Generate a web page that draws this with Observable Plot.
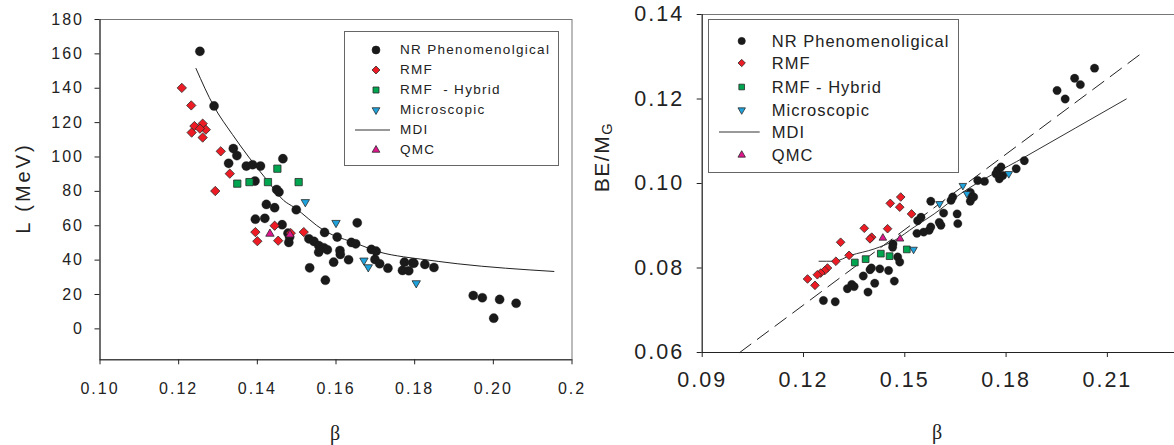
<!DOCTYPE html>
<html><head><meta charset="utf-8">
<script src="https://cdn.jsdelivr.net/npm/d3@7"></script>
<script src="https://cdn.jsdelivr.net/npm/@observablehq/plot@0.6"></script>
<style>
body{margin:0;background:#fff;}
#wrap{position:relative;width:1174px;height:445px;overflow:hidden;font-family:"Liberation Sans",Arial,sans-serif;color:#222;}
.panel{position:absolute;top:0;}
.lbl{position:absolute;white-space:nowrap;line-height:1;}
.legend{position:absolute;border:1px solid #666;background:#fff;box-sizing:border-box;}
.legend .t{position:absolute;white-space:pre;line-height:1;transform:translateY(-50%);}
</style></head><body><div id="wrap"></div>
<script>
// ---------- tick values and labels ----------
const leftXTicks = [0.10, 0.12, 0.14, 0.16, 0.18, 0.20, 0.22];
const leftXLabels = ["0.10", "0.12", "0.14", "0.16", "0.18", "0.20", "0.2"];
const leftYTicks = [0, 20, 40, 60, 80, 100, 120, 140, 160, 180];
const leftYLabels = ["0", "20", "40", "60", "80", "100", "120", "140", "160", "180"];
const rightXTicks = [0.09, 0.12, 0.15, 0.18, 0.21];
const rightXLabels = ["0.09", "0.12", "0.15", "0.18", "0.21"];
const rightYTicks = [0.06, 0.08, 0.10, 0.12, 0.14];
const rightYLabels = ["0.06", "0.08", "0.10", "0.12", "0.14"];

// ---------- series names ----------
const seriesLeft = ["NR Phenomenolgical", "RMF", "RMF  - Hybrid", "Microscopic", "MDI", "QMC"];
const seriesRight = ["NR Phenomenoligical", "RMF", "RMF - Hybrid", "Microscopic", "MDI", "QMC"];

// ---------- left panel: beta vs L (MeV) ----------
const nrL = [[0.1254,161.5],[0.1290,129.7],[0.1339,104.9],[0.1348,100.8],[0.1327,96.3],[0.1372,94.7],[0.1388,95.5],[0.1408,94.7],[0.1465,99.0],[0.1394,86.0],[0.1449,81.1],[0.1455,79.6],[0.1423,72.4],[0.1444,70.5],[0.1499,69.3],[0.1395,63.8],[0.1419,64.3],[0.1463,60.6],[0.1478,55.7],[0.1482,53.4],[0.1480,50.3],[0.1654,61.7],[0.1571,56.1],[0.1603,53.4],[0.1531,52.4],[0.1544,50.9],[0.1556,48.5],[0.1569,47.2],[0.1578,46.0],[0.1556,44.6],[0.1610,45.6],[0.1611,43.3],[0.1639,50.3],[0.1650,49.5],[0.1690,46.2],[0.1702,45.2],[0.1699,40.4],[0.1711,37.9],[0.1632,40.2],[0.1594,38.8],[0.1732,35.3],[0.1533,35.5],[0.1573,28.3],[0.1774,38.8],[0.1798,38.2],[0.1769,34.0],[0.1785,33.8],[0.1795,38.4],[0.1826,37.5],[0.1849,35.7],[0.1949,19.4],[0.1972,18.1],[0.2016,17.1],[0.2058,14.9],[0.2001,6.2]];
const rmfL = [[0.1208,140.2],[0.1232,130.0],[0.1240,118.0],[0.1261,119.4],[0.1269,115.9],[0.1254,116.5],[0.1233,114.2],[0.1261,111.3],[0.1307,103.3],[0.1330,90.3],[0.1293,80.2],[0.1444,60.0],[0.1395,56.3],[0.1400,51.0],[0.1453,51.3],[0.1518,56.3],[0.1485,55.7]];
const hybL = [[0.1349,84.5],[0.1380,85.4],[0.1427,85.4],[0.1451,93.2],[0.1505,85.4]];
const micL = [[0.1522,73.8],[0.1600,61.7],[0.1671,39.8],[0.1682,35.9],[0.1804,26.6]];
const qmcL = [[0.1432,55.3],[0.1483,54.8]];
const mdiL = [[0.1244,151.5],[0.1289,129.7],[0.1337,113.0],[0.1378,100.0],[0.1425,86.4],[0.1467,74.7],[0.1493,70.8],[0.1569,57.3],[0.1654,49.5],[0.1712,44.6],[0.1772,41.9],[0.1815,40.6],[0.1908,37.9],[0.2154,33.4]];

// ---------- right panel: beta vs BE/M_G ----------
const nrR = [[0.1259,0.0723],[0.1294,0.0720],[0.1330,0.0751],[0.1350,0.0756],[0.1343,0.0761],[0.1391,0.0743],[0.1411,0.0764],[0.1469,0.0769],[0.1377,0.0781],[0.1397,0.0796],[0.1401,0.0800],[0.1426,0.0798],[0.1452,0.0794],[0.1479,0.0826],[0.1485,0.0814],[0.1465,0.0857],[0.1464,0.0849],[0.1538,0.0912],[0.1548,0.0920],[0.1577,0.0958],[0.1536,0.0882],[0.1556,0.0885],[0.1572,0.0889],[0.1577,0.0897],[0.1602,0.0908],[0.1607,0.0901],[0.1615,0.0930],[0.1655,0.0928],[0.1657,0.0905],[0.1637,0.0960],[0.1642,0.0968],[0.1694,0.0979],[0.1698,0.0968],[0.1694,0.0958],[0.1704,0.0968],[0.1716,0.1007],[0.1736,0.1005],[0.1775,0.1031],[0.1785,0.1039],[0.1780,0.1011],[0.1770,0.1023],[0.1790,0.1019],[0.1830,0.1035],[0.1854,0.1054],[0.2062,0.1273],[0.2003,0.1249],[0.2020,0.1234],[0.1951,0.1220],[0.1975,0.1200]];
const rmfR = [[0.1488,0.0968],[0.1457,0.0953],[0.1485,0.0944],[0.1520,0.0928],[0.1380,0.0894],[0.1449,0.0893],[0.1402,0.0873],[0.1397,0.0869],[0.1310,0.0861],[0.1335,0.0830],[0.1296,0.0816],[0.1271,0.0800],[0.1263,0.0794],[0.1251,0.0788],[0.1241,0.0784],[0.1212,0.0774],[0.1234,0.0759]];
const hybR = [[0.1352,0.0813],[0.1384,0.0821],[0.1429,0.0834],[0.1455,0.0828],[0.1506,0.0844]];
const micR = [[0.1526,0.0844],[0.1603,0.0952],[0.1672,0.0995],[0.1684,0.0976],[0.1808,0.1023]];
const qmcR = [[0.1435,0.0871],[0.1486,0.0869]];
const mdiR = [[0.1246,0.0816],[0.1291,0.0816],[0.1340,0.0830],[0.1409,0.0845],[0.1469,0.0865],[0.1528,0.0897],[0.1587,0.0928],[0.1666,0.0976],[0.1854,0.1062],[0.2156,0.1200]];
const fitR = [[0.1011,0.0600],[0.2206,0.1311]];

// ---------- styling ----------
const C = {nr: "#1a1a1a", rmf: "#ed1c24", hyb: "#00a54f", mic: "#1fa3dc", qmc: "#e0158c", edge: "#2a2a2a"};
const xy = {x: d => d[0], y: d => d[1]};
const wrap = d3.select("#wrap");

function lab(ticks, labels) { return d => labels[ticks.indexOf(d)]; }

// ---------- left plot ----------
const leftPlot = Plot.plot({
  width: 587, height: 445,
  marginLeft: 99.5, marginRight: 15.5, marginTop: 19, marginBottom: 85.7,
  x: {domain: [0.10, 0.22]},
  y: {domain: [-18, 180]},
  style: {fontFamily: "Liberation Sans, Arial, sans-serif", fontSize: "16px", letterSpacing: "2px", color: "#222", background: "transparent", overflow: "visible"},
  marks: [
    Plot.frame({stroke: "#777", strokeWidth: 1}),
    Plot.ruleX([0.10], {stroke: "#222"}),
    Plot.ruleY([-18], {stroke: "#222"}),
    Plot.axisX(leftXTicks, {tickSize: 5, tickPadding: 18, tickFormat: lab(leftXTicks, leftXLabels), label: null}),
    Plot.axisY(leftYTicks, {tickSize: 5, tickPadding: 11, tickFormat: lab(leftYTicks, leftYLabels), label: null}),
    Plot.line(mdiL, {...xy, stroke: "#222", strokeWidth: 1, curve: "monotone-x"}),
    Plot.dot(nrL, {...xy, r: 4.6, fill: C.nr, stroke: C.nr, strokeWidth: 0.3}),
    Plot.dot(rmfL, {...xy, symbol: "diamond2", r: 4.2, fill: C.rmf, stroke: C.edge, strokeWidth: 0.8}),
    Plot.dot(hybL, {...xy, symbol: "square", r: 4.1, fill: C.hyb, stroke: C.edge, strokeWidth: 0.8}),
    Plot.dot(micL, {...xy, symbol: "triangle", rotate: 180, r: 3.1, fill: C.mic, stroke: C.edge, strokeWidth: 0.8}),
    Plot.dot(qmcL, {...xy, symbol: "triangle", r: 3.1, fill: C.qmc, stroke: C.edge, strokeWidth: 0.8})
  ]
});
wrap.append("div").attr("class", "panel").style("left", "0px").style("width", "587px").node().appendChild(leftPlot);

// ---------- right plot ----------
const rightPlot = Plot.plot({
  width: 600, height: 445,
  marginLeft: 114.7, marginRight: 12.6, marginTop: 14, marginBottom: 93,
  x: {domain: [0.09, 0.23]},
  y: {domain: [0.06, 0.14]},
  style: {fontFamily: "Liberation Sans, Arial, sans-serif", fontSize: "21.5px", letterSpacing: "2px", color: "#222", background: "transparent", overflow: "visible"},
  marks: [
    Plot.frame({stroke: "#777", strokeWidth: 1}),
    Plot.ruleX([0.09], {stroke: "#222"}),
    Plot.ruleY([0.06], {stroke: "#222"}),
    Plot.axisX(rightXTicks, {tickSize: 5, tickPadding: 14, tickFormat: lab(rightXTicks, rightXLabels), label: null}),
    Plot.axisY(rightYTicks, {tickSize: 5, tickPadding: 13, tickFormat: lab(rightYTicks, rightYLabels), label: null}),
    Plot.line(fitR, {...xy, stroke: "#222", strokeWidth: 1, strokeDasharray: "14,8"}),
    Plot.line(mdiR, {...xy, stroke: "#333", strokeWidth: 1, curve: "monotone-x"}),
    Plot.dot(nrR, {...xy, r: 4.2, fill: C.nr, stroke: C.nr, strokeWidth: 0.3}),
    Plot.dot(rmfR, {...xy, symbol: "diamond2", r: 3.9, fill: C.rmf, stroke: C.edge, strokeWidth: 0.8}),
    Plot.dot(hybR, {...xy, symbol: "square", r: 3.8, fill: C.hyb, stroke: C.edge, strokeWidth: 0.8}),
    Plot.dot(micR, {...xy, symbol: "triangle", rotate: 180, r: 2.8, fill: C.mic, stroke: C.edge, strokeWidth: 0.8}),
    Plot.dot(qmcR, {...xy, symbol: "triangle", r: 2.8, fill: C.qmc, stroke: C.edge, strokeWidth: 0.8})
  ]
});
wrap.append("div").attr("class", "panel").style("left", "587px").style("width", "600px").node().appendChild(rightPlot);

// ---------- axis titles ----------
function title(html, x, y, size, rot, family, spacing) {
  wrap.append("div").attr("class", "lbl")
    .style("left", x + "px").style("top", y + "px")
    .style("font-size", size + "px").style("letter-spacing", spacing + "px")
    .style("font-family", family)
    .style("transform", `translate(-50%,-50%) rotate(${rot}deg)`)
    .html(html);
}
title("L (MeV)", 23, 188, 20, -90, "Liberation Sans, Arial, sans-serif", 3);
title("β", 335, 433, 20, 0, "Liberation Serif, serif", 0);
title("BE/M<sub style='font-size:70%;vertical-align:-0.25em'>G</sub>", 603, 157, 21, -90, "Liberation Sans, Arial, sans-serif", 1.5);
title("β", 937, 432, 20, 0, "Liberation Serif, serif", 0);

// ---------- legends ----------
const symbols = [
  {type: "circle", fill: C.nr, stroke: C.nr},
  {type: "diamond", fill: C.rmf, stroke: C.edge},
  {type: "square", fill: C.hyb, stroke: C.edge},
  {type: "tridown", fill: C.mic, stroke: C.edge},
  {type: "line"},
  {type: "triup", fill: C.qmc, stroke: C.edge}
];
function legend(cfg, names) {
  const box = wrap.append("div").attr("class", "legend")
    .style("left", cfg.x + "px").style("top", cfg.y + "px")
    .style("width", cfg.w + "px").style("height", cfg.h + "px");
  names.forEach((name, i) => {
    const s = symbols[i], cy = cfg.rowY[i];
    const svg = box.append("svg").style("position", "absolute")
      .style("left", "0px").style("top", (cy - 10) + "px")
      .attr("width", 60).attr("height", 20);
    if (s.type === "line") {
      svg.append("line").attr("x1", cfg.line[0]).attr("x2", cfg.line[1])
        .attr("y1", 10).attr("y2", 10).attr("stroke", "#333").attr("stroke-width", 1);
    } else {
      const t = {circle: [d3.symbolCircle, cfg.sz.circle, 0], diamond: [d3.symbolDiamond2, cfg.sz.diamond, 0],
        square: [d3.symbolSquare, cfg.sz.square, 0], tridown: [d3.symbolTriangle, cfg.sz.tri, 180],
        triup: [d3.symbolTriangle, cfg.sz.tri, 0]}[s.type];
      svg.append("path").attr("d", d3.symbol(t[0], t[1])())
        .attr("transform", `translate(${cfg.symX},10) rotate(${t[2]})`)
        .attr("fill", s.fill).attr("stroke", s.stroke).attr("stroke-width", 0.8);
    }
    box.append("div").attr("class", "t")
      .style("left", cfg.textX + "px").style("top", cy + "px")
      .style("font-size", cfg.font + "px").style("letter-spacing", cfg.spacing + "px")
      .text(name);
  });
}
legend({x: 344, y: 30.7, w: 215.3, h: 135.3, symX: 31, textX: 55, line: [10, 45],
  rowY: [18.6, 38.6, 58.3, 78.6, 98.3, 118.6], font: 13.5, spacing: 1.3,
  sz: {circle: 48, diamond: 40, square: 36, tri: 26}}, seriesLeft);
legend({x: 708.3, y: 19.3, w: 250.7, h: 154, symX: 32.7, textX: 62.5, line: [10, 50.7],
  rowY: [20.7, 43, 66.7, 89.7, 111.7, 134.7], font: 16.5, spacing: 1,
  sz: {circle: 40, diamond: 34, square: 32, tri: 24}}, seriesRight);
</script></body></html>
